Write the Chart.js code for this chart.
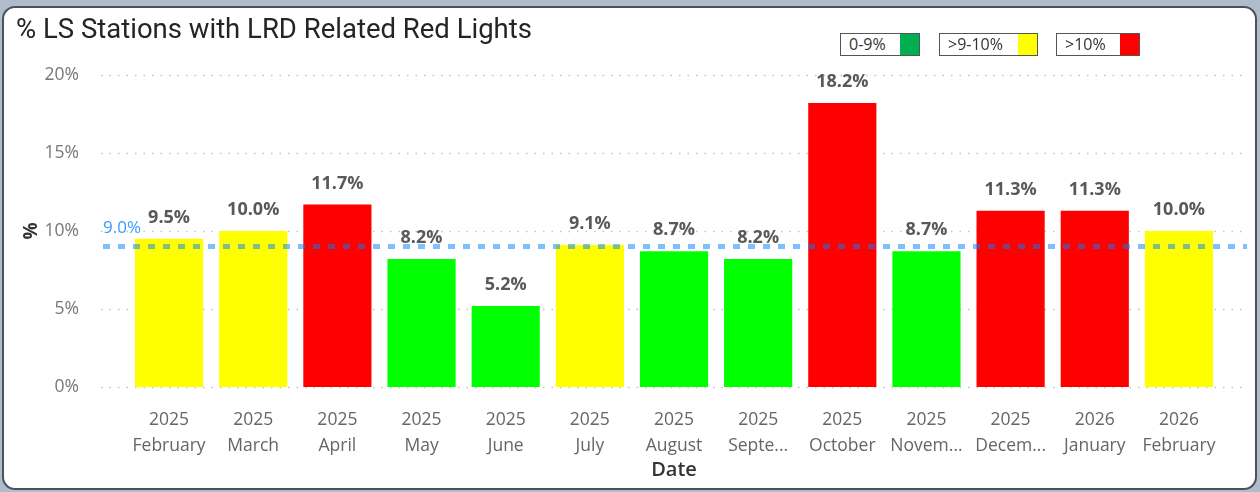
<!DOCTYPE html>
<html>
<head>
<meta charset="utf-8">
<script src="https://cdn.jsdelivr.net/npm/chart.js@4.4.1/dist/chart.umd.min.js"></script>
<style>
  html, body { margin: 0; padding: 0; }
  body { width: 1260px; height: 492px; background: #aebccb; position: relative; overflow: hidden; font-family: "Open Sans", sans-serif; }
  .card { position: absolute; left: 2px; top: 6px; width: 1251px; height: 480px; background: #fff; border: 2px solid #4b5158; border-radius: 13px; }
  #wrap { position: absolute; left: 0; top: 0; width: 1260px; height: 492px; }
  .legend { position: absolute; top: 33px; height: 23px; border: 1px solid #555; background: #fff; display: flex; align-items: center; font-size: 16px; color: #333; box-sizing: border-box; }
  .legend span.t { padding: 0 6px 0 8px; line-height: 21px; }
  .legend span.sw { width: 19px; height: 21px; }
</style>
</head>
<body>
<div class="card"></div>
<div id="wrap"><canvas id="chart" width="1260" height="492"></canvas></div>
<div class="legend" style="left:840px;width:80px"><span class="t">0-9%</span><span class="sw" style="background:#00b050;margin-left:auto"></span></div>
<div class="legend" style="left:939px;width:99px"><span class="t">&gt;9-10%</span><span class="sw" style="background:#ffff00;margin-left:auto"></span></div>
<div class="legend" style="left:1056px;width:84px"><span class="t">&gt;10%</span><span class="sw" style="background:#ff0000;margin-left:auto"></span></div>
<script>
// valores
const anos = ["2025", "2025", "2025", "2025", "2025", "2025", "2025", "2025", "2025", "2025", "2025", "2026", "2026"];
const meses = ["February", "March", "April", "May", "June", "July", "August", "Septe...", "October", "Novem...", "Decem...", "January", "February"];
const percentuais = [9.5, 10.0, 11.7, 8.2, 5.2, 9.1, 8.7, 8.2, 18.2, 8.7, 11.3, 11.3, 10.0];
const meta = 9.0;
const yTicks = [0, 5, 10, 15, 20];

function corDaBarra(v) {
  if (v > 10) return "#ff0000";
  if (v > 9) return "#ffff00";
  return "#00ff00";
}

const extras = {
  id: "extras",
  beforeDatasetsDraw(chart) {
    const { ctx, chartArea, scales } = chart;
    ctx.save();
    ctx.strokeStyle = "#c4c4c4";
    ctx.lineWidth = 1.5;
    ctx.setLineDash([1.5, 7]);
    yTicks.forEach((t) => {
      const y = Math.round(scales.y.getPixelForValue(t)) + 0.5;
      ctx.beginPath();
      ctx.moveTo(chartArea.left - 26, y);
      ctx.lineTo(chartArea.right + 24, y);
      ctx.stroke();
    });
    ctx.restore();
  },
  afterDatasetsDraw(chart) {
    const { ctx, chartArea, scales } = chart;
    const meta0 = chart.getDatasetMeta(0);
    ctx.save();
    // rotulos das barras
    ctx.font = "bold 18px 'Open Sans'";
    ctx.fillStyle = "#595959";
    ctx.textAlign = "center";
    ctx.textBaseline = "middle";
    meta0.data.forEach((bar, i) => {
      ctx.fillText(percentuais[i].toFixed(1) + "%", bar.x, bar.y - 21);
    });
    // linha de referencia
    const y = scales.y.getPixelForValue(meta);
    ctx.strokeStyle = "rgba(0,128,255,0.5)";
    ctx.lineWidth = 5;
    ctx.setLineDash([7, 8]);
    ctx.beginPath();
    ctx.moveTo(chartArea.left - 24, y);
    ctx.lineTo(chartArea.right + 26, y);
    ctx.stroke();
    ctx.setLineDash([]);
    ctx.font = "17px 'Open Sans'";
    ctx.fillStyle = "#3b9cff";
    ctx.textAlign = "left";
    ctx.fillText(meta.toFixed(1) + "%", chartArea.left - 24, y - 18);
    ctx.restore();
  },
};

new Chart(document.getElementById("chart"), {
  type: "bar",
  data: {
    labels: anos.map((a, i) => [a, meses[i]]),
    datasets: [{
      label: "%",
      data: percentuais,
      backgroundColor: percentuais.map(corDaBarra),
      barPercentage: 0.81,
      categoryPercentage: 1,
    }],
  },
  options: {
    responsive: false,
    animation: false,
    layout: { padding: { left: 16, right: 39, top: 8, bottom: 0 } },
    plugins: {
      legend: { display: false },
      tooltip: { enabled: false },
      title: {
        display: true,
        text: "% LS Stations with LRD Related Red Lights",
        align: "start",
        color: "#252423",
        font: { family: "Roboto", size: 27.5, weight: "normal" },
        padding: { top: 7, bottom: 27 },
      },
    },
    scales: {
      x: {
        afterFit: (s) => { s.height = 105; },
        grid: { display: false },
        border: { display: false },
        ticks: { color: "#666", font: { family: "Open Sans", size: 17.5, lineHeight: 1.5 }, maxRotation: 0, autoSkip: false, padding: 12 },
        title: { display: true, text: "Date", color: "#333", font: { family: "Open Sans", size: 20, weight: "600" }, padding: { top: 0, bottom: 10 } },
      },
      y: {
        min: 0,
        max: 20,
        afterBuildTicks: (s) => { s.ticks = yTicks.map((v) => ({ value: v })); },
        afterFit: (s) => { s.width = 111; },
        grid: { display: false },
        border: { display: false },
        ticks: { color: "#777", font: { family: "Open Sans", size: 17.5 }, padding: 40, callback: (v) => v + "%" },
        title: { display: true, text: "%", color: "#333", font: { family: "Open Sans", size: 19, weight: "bold" }, padding: 4 },
      },
    },
  },
  plugins: [extras],
});
</script>
</body>
</html>
